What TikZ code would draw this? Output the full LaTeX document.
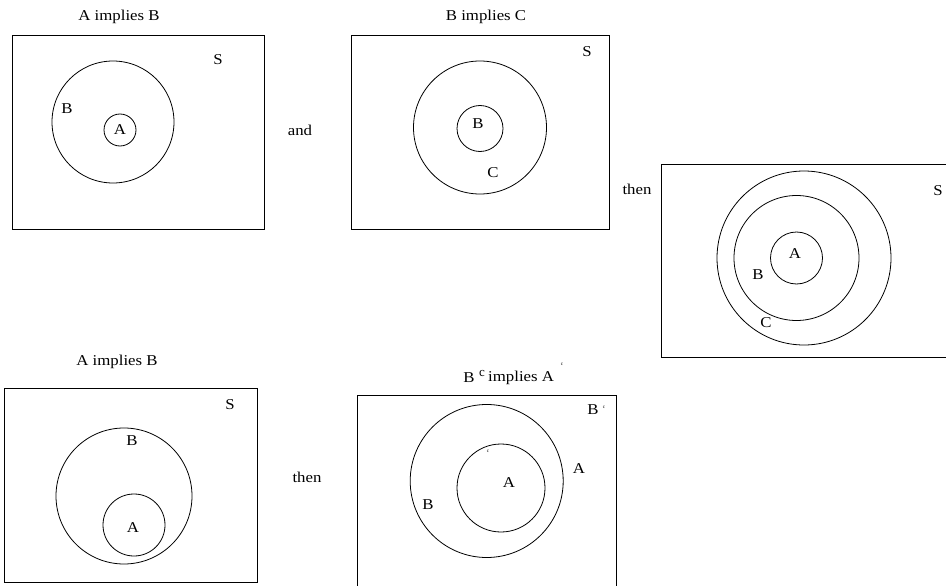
\documentclass[tikz,border=0pt]{standalone}
\usepackage{fontspec}
\setmainfont{Liberation Serif}
\begin{document}
\begin{tikzpicture}[x=1pt,y=-1pt,
  lbl/.style={inner sep=0pt, font=\fontsize{15}{17}\selectfont, xscale=1.12},
  tiny/.style={inner sep=0pt, font=\fontsize{5}{6}\selectfont},
  sup/.style={inner sep=0pt, font=\fontsize{13}{15}\selectfont},
  frame/.style={draw, line width=0.8pt},
  ring/.style={draw, circle, line width=0.8pt, inner sep=0pt}]
\useasboundingbox (0,0) rectangle (946,586);
\clip (0,0) rectangle (946,586);
% Panel 1
\node[lbl] (t1) at (119,17) {A implies B};
\draw[frame] (12,35) rectangle (264,229);
\node[ring, minimum size=122pt] (b1) at (113,122) {};
\node[ring, minimum size=32pt] (a1) at (120,130) {};
\node[lbl] (la1) at (120,130) {A};
\node[lbl] (lb1) at (67,109) {B};
\node[lbl] (ls1) at (218,60) {S};
\node[lbl] (and) at (300,130) {and};
% Panel 2
\node[lbl] (t2) at (486,17) {B implies C};
\draw[frame] (351,35) rectangle (609,229);
\node[ring, minimum size=133pt] (c2) at (480,127.5) {};
\node[ring, minimum size=46pt] (b2) at (480,128.5) {};
\node[lbl] (lb2) at (478,124) {B};
\node[lbl] (lc2) at (493,173) {C};
\node[lbl] (ls2) at (587,52) {S};
\node[lbl] (then1) at (637,189) {then};
% Panel 3
\draw[frame] (980,164) -- (661,164) -- (661,357) -- (980,357);
\node[ring, minimum size=174pt] (c3) at (804,258) {};
\node[ring, minimum size=125pt] (b3) at (796.5,258) {};
\node[ring, minimum size=52pt] (a3) at (796.5,258) {};
\node[lbl] (la3) at (795,254) {A};
\node[lbl] (lb3) at (758,275) {B};
\node[lbl] (lc3) at (766,323) {C};
\node[lbl] (ls3) at (938,191) {S};
% Panel 4
\node[lbl] (t4) at (117,362) {A implies B};
\draw[frame] (4,388) rectangle (257,582);
\node[ring, minimum size=136pt] (b4) at (124,496) {};
\node[ring, minimum size=62pt] (a4) at (134,525) {};
\node[lbl] (la4) at (133,528) {A};
\node[lbl] (lb4) at (132,441) {B};
\node[lbl] (ls4) at (230,405) {S};
\node[lbl] (then2) at (307,477) {then};
% Panel 5
\node[lbl] (t5b) at (469,378) {B};
\node[sup] (t5c) at (482,373) {c};
\node[lbl, anchor=west] (t5) at (488,378) {implies A};
\node[tiny] (t5cc) at (562,364) {c};
\draw[frame] (357,395) rectangle (616,600);
\node[ring, minimum size=153pt] (b5) at (486.7,481) {};
\node[ring, minimum size=88pt] (a5) at (501,488) {};
\node[lbl] (la5) at (509,483) {A};
\node[tiny] (lc5) at (488,451) {c};
\node[lbl] (lb5) at (428,505) {B};
\node[lbl] (lao5) at (579,469) {A};
\node[lbl] (lbo5) at (593,410) {B};
\node[tiny] (lbc5) at (604,407) {c};
\end{tikzpicture}
\end{document}
